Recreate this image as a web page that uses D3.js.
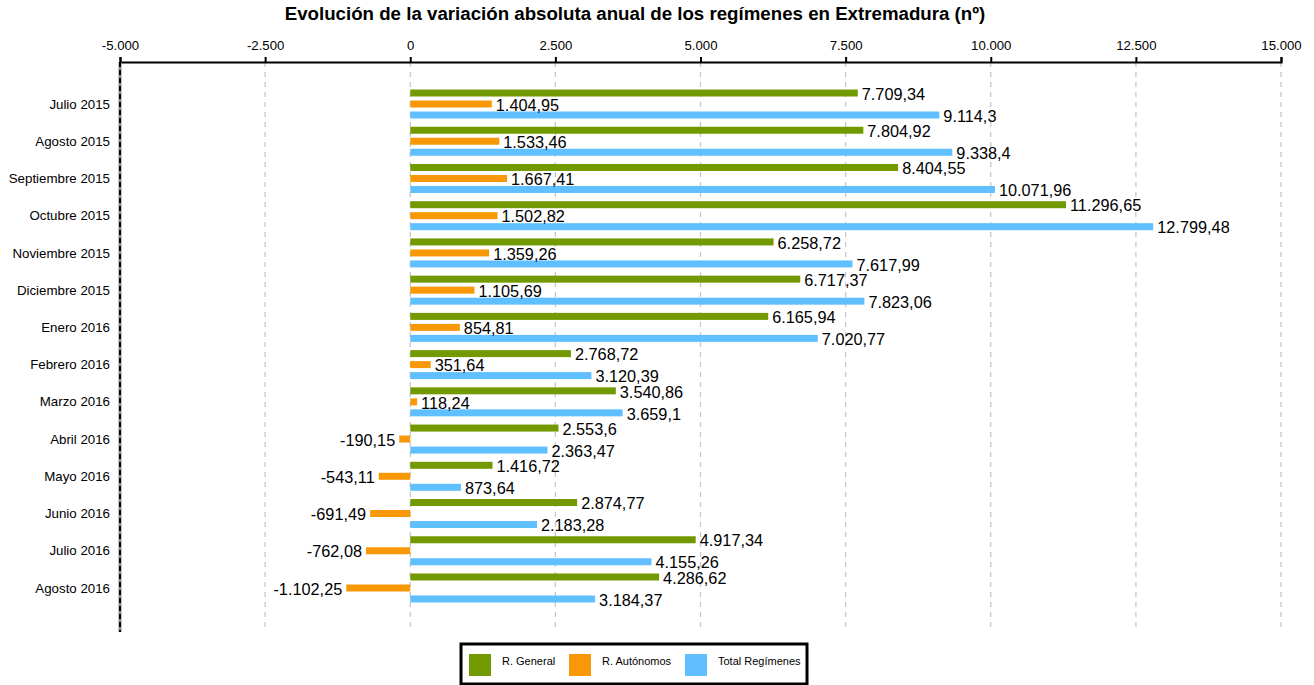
<!DOCTYPE html>
<html><head><meta charset="utf-8">
<script src="https://cdn.jsdelivr.net/npm/d3@7"></script>
<style>body{margin:0;background:#fff;}svg{display:block;font-family:"Liberation Sans",Arial,sans-serif;}</style>
</head><body><svg id="c" width="1314" height="685"></svg>
<script>
const categories = ["Julio 2015","Agosto 2015","Septiembre 2015","Octubre 2015","Noviembre 2015","Diciembre 2015","Enero 2016","Febrero 2016","Marzo 2016","Abril 2016","Mayo 2016","Junio 2016","Julio 2016","Agosto 2016"];
const seriesNames = ["R. General","R. Autónomos","Total Regímenes"];
const rGeneral = [7709.34,7804.92,8404.55,11296.65,6258.72,6717.37,6165.94,2768.72,3540.86,2553.6,1416.72,2874.77,4917.34,4286.62];
const rAutonomos = [1404.95,1533.46,1667.41,1502.82,1359.26,1105.69,854.81,351.64,118.24,-190.15,-543.11,-691.49,-762.08,-1102.25];
const totalRegimenes = [9114.3,9338.4,10071.96,12799.48,7617.99,7823.06,7020.77,3120.39,3659.1,2363.47,873.64,2183.28,4155.26,3184.37];
const tickValues = [-5000,-2500,0,2500,5000,7500,10000,12500,15000];
const colors = ["#729a00","#f99807","#5fbfff"];
const title = "Evolución de la variación absoluta anual de los regímenes en Extremadura (nº)";

(function(){
const seriesData = [rGeneral, rAutonomos, totalRegimenes];
const loc = d3.formatLocale({decimal:",",thousands:".",grouping:[3],currency:["","€"],minus:"-"});
const fmtVal = loc.format(",.2~f");
const fmtTick = loc.format(",.0f");

const svg = d3.select("#c");
const pL = 120, pR = 1281, pT = 62, pB = 632;
const x = d3.scaleLinear().domain([-5000,15000]).range([pL,pR]);
const y = d3.scaleBand().domain(categories).range([85.4,606.6]).padding(0);
const inner = d3.scaleBand().domain(seriesNames).range([-14.5,14.5]).paddingInner(4/11).paddingOuter(0);

svg.append("text").attr("x",635).attr("y",20).attr("text-anchor","middle")
  .attr("font-size",18.7).attr("font-weight","bold").text(title);

svg.append("g").selectAll("line").data(tickValues.slice(1)).join("line")
  .attr("x1",d=>x(d)).attr("x2",d=>x(d)).attr("y1",pT).attr("y2",pB)
  .attr("stroke","#c8c8c8").attr("stroke-width",1.3).attr("stroke-dasharray","5,5");

const ax = svg.append("g").attr("transform",`translate(0,${pT})`)
  .call(d3.axisTop(x).tickValues(tickValues).tickFormat(fmtTick).tickSize(5).tickPadding(7));
ax.select(".domain").attr("stroke","#000").attr("stroke-width",2);
ax.selectAll(".tick line").attr("stroke","#000").attr("stroke-width",2);
ax.selectAll(".tick text").attr("font-size",13.2).attr("fill","#000").attr("font-family","Liberation Sans, Arial, sans-serif");

svg.append("line").attr("x1",pL).attr("x2",pL).attr("y1",pT).attr("y2",pB)
  .attr("stroke","#8a8a8a").attr("stroke-width",3);
svg.append("line").attr("x1",pL).attr("x2",pL).attr("y1",pT).attr("y2",pB)
  .attr("stroke","#000").attr("stroke-width",2).attr("stroke-dasharray","5,3");

svg.append("g").selectAll("text").data(categories).join("text")
  .attr("x",110).attr("y",d=>y(d)+y.bandwidth()/2).attr("dy","0.35em")
  .attr("text-anchor","end").attr("font-size",13.3).text(d=>d);

const rows = [];
categories.forEach((c,i)=>seriesNames.forEach((s,j)=>rows.push({c,s,j,v:seriesData[j][i]})));
const cy = d=>y(d.c)+y.bandwidth()/2 + inner(d.s);
svg.append("g").selectAll("rect").data(rows).join("rect")
  .attr("x",d=>x(Math.min(0,d.v))).attr("width",d=>Math.abs(x(d.v)-x(0)))
  .attr("y",d=>cy(d)).attr("height",inner.bandwidth())
  .attr("fill",d=>colors[d.j]);

svg.append("g").selectAll("text").data(rows).join("text")
  .attr("x",d=>d.v>=0 ? x(d.v)+4 : x(d.v)-4)
  .attr("y",d=>cy(d)+inner.bandwidth()/2+1).attr("dy","0.35em")
  .attr("text-anchor",d=>d.v>=0?"start":"end")
  .attr("font-size",16.3).text(d=>fmtVal(d.v));

const lg = svg.append("g");
lg.append("rect").attr("x",461).attr("y",644).attr("width",346).attr("height",40)
  .attr("fill","#fff").attr("stroke","#000").attr("stroke-width",3);
const lx = [469,569,685];
seriesNames.forEach((s,j)=>{
  lg.append("rect").attr("x",lx[j]).attr("y",654).attr("width",22).attr("height",22).attr("fill",colors[j]);
  lg.append("text").attr("x",lx[j]+33).attr("y",665).attr("font-size",11).text(s);
});
})();
</script></body></html>
